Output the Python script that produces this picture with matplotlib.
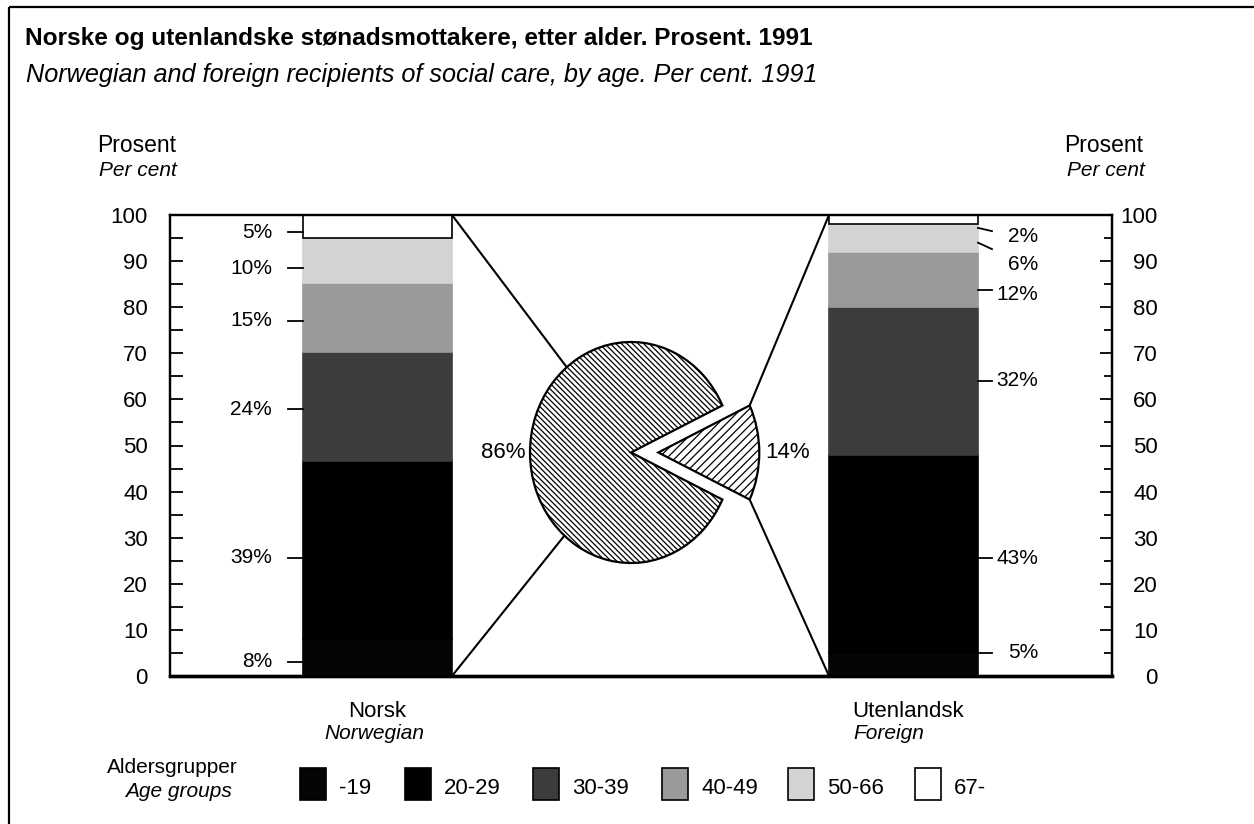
import numpy as np
import matplotlib
matplotlib.use("Agg")
import matplotlib.pyplot as plt
from matplotlib.patches import Rectangle, ConnectionPatch

plt.rcParams['font.family'] = ['Liberation Sans', 'DejaVu Sans']
plt.rcParams['hatch.linewidth'] = 0.9

# data
age_groups = ["-19", "20-29", "30-39", "40-49", "50-66", "67-"]
norsk = [8, 39, 24, 15, 10, 5]          # per cent, rounded (sums to 101)
foreign = [5, 43, 32, 12, 6, 2]         # per cent
pie_shares = [86, 14]                   # norsk / utenlandsk

# label anchors (value-axis units) as placed in the original
norsk_label_y = [3.1, 25.6, 57.9, 77.1, 88.5, 96.3]
foreign_label_y = [5, 25.5, 64, 82.8, 89.2, 95.4]
foreign_lead_from = [5, 25.5, 64, 83.7, 94, 97.2]
foreign_lead_to = [5, 25.5, 64, 83.7, 92.6, 96.5]

seg_colors = ["#050505", "#000000", "#3c3c3c", "#9a9a9a", "#d3d3d3", "#ffffff"]

W, H = 1254, 824
fig = plt.figure(figsize=(W / 100, H / 100), dpi=100)


def frac(x0, y0, x1, y1):
    # pixel box (top-left origin) -> figure fraction
    return [x0 / W, 1 - y1 / H, (x1 - x0) / W, (y1 - y0) / H]


# overlay in pixel units for titles, legend, frame
lay = fig.add_axes([0, 0, 1, 1])
lay.set_xlim(0, W)
lay.set_ylim(H, 0)
lay.axis('off')
lay.plot([9, 9], [H, 7], color='black', lw=1.6, solid_capstyle='butt')
lay.plot([9, W], [7, 7], color='black', lw=1.6, solid_capstyle='butt')

lay.text(25, 45, "Norske og utenlandske stønadsmottakere, etter alder. Prosent. 1991",
         fontsize=17.6, fontweight='bold', va='baseline')
lay.text(26, 82, "Norwegian and foreign recipients of social care, by age. Per cent. 1991",
         fontsize=18.2, style='italic', va='baseline')
lay.text(176, 152, "Prosent", fontsize=16.5, ha='right', va='baseline')
lay.text(177, 176, "Per cent", fontsize=15, style='italic', ha='right', va='baseline')
lay.text(1064, 152, "Prosent", fontsize=16.5, ha='left', va='baseline')
lay.text(1067, 176, "Per cent", fontsize=15, style='italic', ha='left', va='baseline')

# main axes: both stacked bars
ax = fig.add_axes(frac(170, 215, 1112, 676))
ax.set_xlim(0, 942)
ax.set_ylim(0, 100)
bar_x = [207.5, 733.5]
bar_w = 149

for xc, vals in zip(bar_x, [norsk, foreign]):
    heights = np.array(vals, float) / sum(vals) * 100
    bottoms = np.concatenate([[0], np.cumsum(heights)[:-1]])
    for i, (h, b) in enumerate(zip(heights, bottoms)):
        ec = 'black' if i == len(heights) - 1 else seg_colors[i]
        ax.bar(xc, h, bottom=b, width=bar_w, color=seg_colors[i],
               edgecolor=ec, linewidth=1.2, zorder=2)

# percentage labels, Norwegian bar (left side)
nl = bar_x[0] - bar_w / 2
for v, y in zip(norsk, norsk_label_y):
    ax.plot([nl - 15, nl], [y, y], color='black', lw=1.3, clip_on=False)
    ax.text(nl - 31, y, f"{v}%", fontsize=15, ha='right', va='center')

# percentage labels, foreign bar (right side)
fr = bar_x[1] + bar_w / 2
for v, y0, y1, ty in zip(foreign, foreign_lead_from, foreign_lead_to, foreign_label_y):
    ax.plot([fr, fr + 14], [y0, y1], color='black', lw=1.3, clip_on=False)
    ax.text(fr + 60, ty, f"{v}%", fontsize=15, ha='right', va='center')

ax.set_xticks([])
ax.set_yticks(range(0, 101, 10))
ax.set_yticks(range(5, 100, 10), minor=True)
ax.tick_params(axis='y', which='major', direction='in', length=9, width=1.3,
               labelsize=16, pad=16)
ax.tick_params(axis='y', which='minor', direction='in', length=9, width=1.3)
for s in ax.spines.values():
    s.set_linewidth(1.6)
ax.spines['bottom'].set_linewidth(2.4)
ax.patch.set_alpha(0)

ax2 = ax.twinx()
ax2.set_ylim(0, 100)
ax2.set_yticks(range(0, 101, 10))
ax2.set_yticks(range(5, 100, 10), minor=True)
ax2.tick_params(axis='y', which='major', direction='in', length=9, width=1.3,
                labelsize=16, pad=33)
ax2.tick_params(axis='y', which='minor', direction='in', length=6, width=1.3)
for t in ax2.get_yticklabels():
    t.set_ha('right')
for s in ax2.spines.values():
    s.set_linewidth(1.6)
ax2.spines['bottom'].set_linewidth(2.4)

# pie in the middle
cx, cy, rx, ry, lim = 631, 452.5, 101, 110.5, 1.35
pax = fig.add_axes(frac(cx - rx * lim, cy - ry * lim, cx + rx * lim, cy + ry * lim))
half = pie_shares[1] / 100 * 180
expl = 0.27
wedges, _ = pax.pie(pie_shares, explode=[0, expl], startangle=half, counterclock=True,
                    colors=['white', 'white'],
                    wedgeprops=dict(edgecolor='black', linewidth=1.6))
wedges[0].set_hatch('\\' * 6)
wedges[1].set_hatch('////')
pax.set_xlim(-lim, lim)
pax.set_ylim(-lim, lim)
pax.set_aspect('auto')
pax.axis('off')
pax.text(-1.04, 0, f"{pie_shares[0]}%", fontsize=16, ha='right', va='center')
pax.text(1.33, 0, f"{pie_shares[1]}%", fontsize=16, ha='left', va='center')

# connectors: Norwegian bar to pie centre (hidden under pie), foreign bar to wedge corners
cxw = expl + np.cos(np.radians(half))
syw = np.sin(np.radians(half))
for ya in (100, 0):
    ax.add_artist(ConnectionPatch((nl + bar_w, ya), (0, 0), coordsA=ax.transData,
                                  coordsB=pax.transData, color='black', lw=1.5))
for ya, yb in ((100, syw), (0, -syw)):
    ax.add_artist(ConnectionPatch((fr - bar_w, ya), (cxw, yb), coordsA=ax.transData,
                                  coordsB=pax.transData, color='black', lw=1.5))

# category labels under bars
lay.text(377.5, 717, "Norsk", fontsize=16, ha='center', va='baseline')
lay.text(374, 739, "Norwegian", fontsize=15, style='italic', ha='center', va='baseline')
lay.text(852, 717, "Utenlandsk", fontsize=16, ha='left', va='baseline')
lay.text(853, 739, "Foreign", fontsize=15, style='italic', ha='left', va='baseline')

# legend
lay.text(238, 773, "Aldersgrupper", fontsize=15, ha='right', va='baseline')
lay.text(232, 797, "Age groups", fontsize=15, style='italic', ha='right', va='baseline')
box_x = [300, 405, 533, 662, 788, 915]
for bx, lab, col in zip(box_x, age_groups, seg_colors):
    lay.add_patch(Rectangle((bx, 768), 26, 32, facecolor=col, edgecolor='black', lw=1.2))
    lay.text(bx + 39, 794, lab, fontsize=16, ha='left', va='baseline')

fig.savefig("out.png", dpi=100)
